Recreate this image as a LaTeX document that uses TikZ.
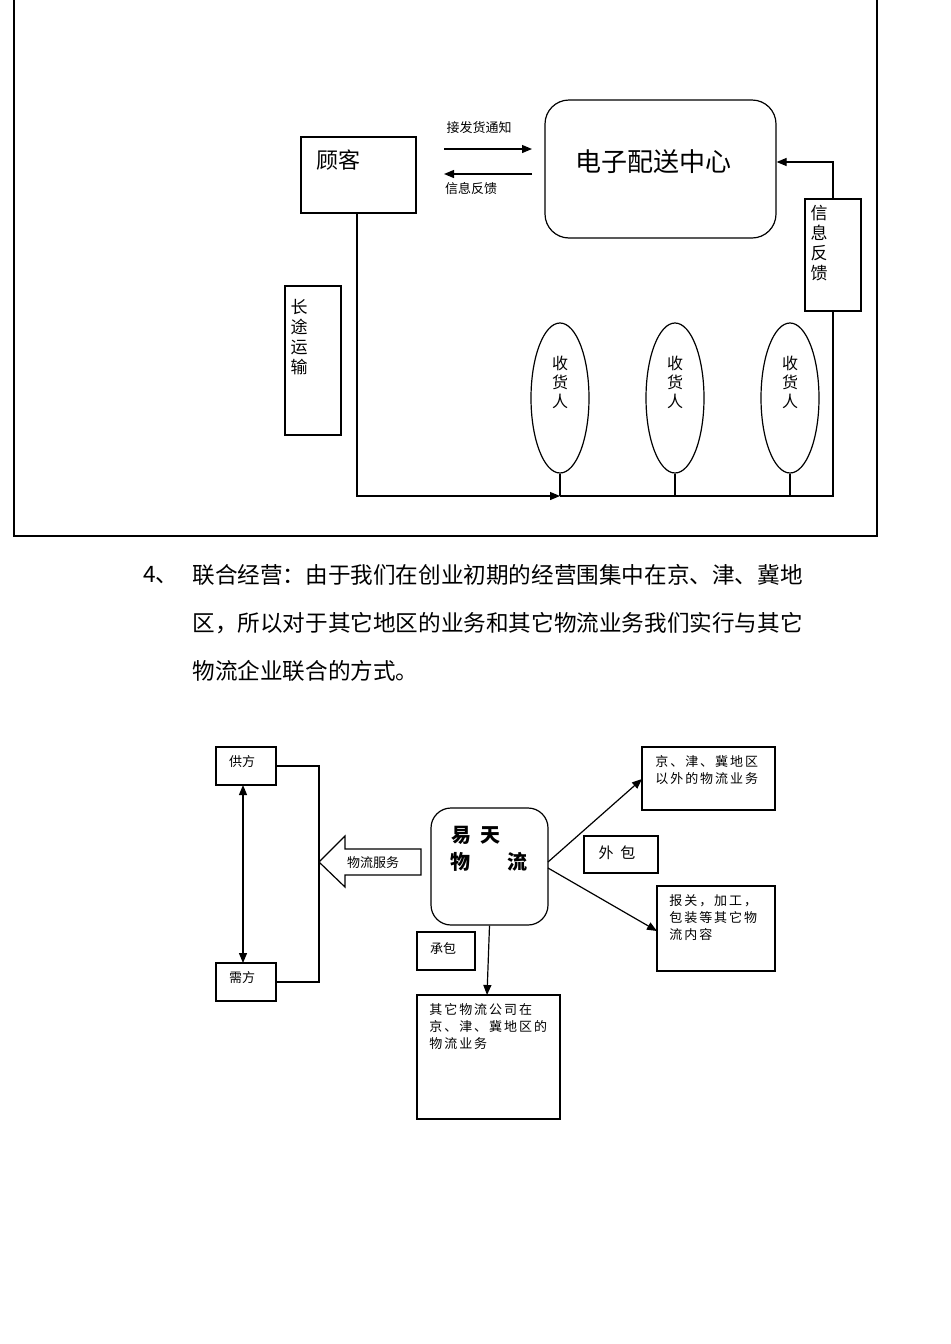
\documentclass[tikz,border=0pt]{standalone}
\usepackage{fontspec}
\setmainfont{Noto Sans CJK SC}
\usetikzlibrary{shapes.geometric,shapes.arrows,arrows.meta}
\begin{document}
\begin{tikzpicture}[x=0.5pt,y=-0.5pt,
  box/.style={draw,line width=0.6pt},
  lbl/.style={font=\fontsize{6.5pt}{8pt}\selectfont,inner sep=0pt},
  wlbl/.style={font=\fontsize{6.5pt}{8.5pt}\selectfont\addfontfeatures{LetterSpace=15},inner sep=0pt},
  arr/.style={-{Triangle[length=5pt,width=4pt]},line width=0.6pt},
  ln/.style={line width=0.6pt}]
\useasboundingbox (0,0) rectangle (950,1344);
\draw[ln] (14,0) -- (14,536) -- (877,536) -- (877,0);
% top diagram
\node[box,minimum width=57.5pt,minimum height=38pt] (cust) at (358.5,175) {};
\node[font=\fontsize{11pt}{13pt}\selectfont] at (338,160) {顾客};
\node[box,rounded corners=12pt,minimum width=115.5pt,minimum height=69pt] (ctr) at (660.5,169) {};
\node[font=\fontsize{13pt}{15pt}\selectfont] at (653,162) {电子配送中心};
\coordinate (a1) at (444,149); \coordinate (a2) at (532,149);
\draw[arr] (a1) -- (a2);
\node[lbl] at (479,128) {接发货通知};
\coordinate (b1) at (532,174); \coordinate (b2) at (444,174);
\draw[arr] (b1) -- (b2);
\node[lbl] at (471,189) {信息反馈};
\node[box,minimum width=28pt,minimum height=74.5pt] (long) at (313,360.5) {};
\node[font=\fontsize{8.5pt}{10pt}\selectfont,align=center] at (299,337) {长\\途\\运\\输};
\node[box,minimum width=28pt,minimum height=56pt] (fb) at (833,255) {};
\node[font=\fontsize{8.5pt}{10pt}\selectfont,align=center] at (819,243) {信\\息\\反\\馈};
\foreach \i/\x in {1/560,2/675,3/790}{
  \node[draw,ellipse,line width=0.6pt,minimum width=29pt,minimum height=75pt,inner sep=0pt] (e\i) at (\x,398) {};
  \node[font=\fontsize{8pt}{9.5pt}\selectfont,align=center] at (\x,382) {收\\货\\人};
  \coordinate (g\i) at (\x,496);
  \draw[ln] (e\i.south) -- (g\i);
}
\coordinate (c1) at (357,496);
\coordinate (c2) at (833,496);
\coordinate (c3) at (833,162);
\draw[arr] (cust.south -| c1) -- (c1) -- (g1);
\draw[ln] (g1) -- (c2) -- (fb.south);
\draw[arr] (fb.north) -- (c3) -- (c3 -| ctr.east);
% paragraph
\begin{scope}[every node/.style={font=\fontsize{11.3pt}{13pt}\selectfont,anchor=west,inner sep=0pt}]
\node at (143,575) {4、};
\node at (192,575) {联合经营：由于我们在创业初期的经营围集中在京、津、冀地};
\node at (192,623) {区，所以对于其它地区的业务和其它物流业务我们实行与其它};
\node at (192,671) {物流企业联合的方式。};
\end{scope}
% bottom diagram
\node[box,minimum width=30pt,minimum height=19pt] (sup) at (246,766) {};
\node[lbl] at (242,762) {供方};
\node[box,minimum width=30pt,minimum height=19pt] (dem) at (246,982) {};
\node[lbl] at (242,978) {需方};
\coordinate (k1) at (319,766); \coordinate (k2) at (319,982);
\draw[ln] (sup.east) -- (k1) -- (k2) -- (dem.east);
\draw[ln,{Triangle[length=5pt,width=4pt]}-{Triangle[length=5pt,width=4pt]}] (243,785) -- (243,963);
\draw[ln] (319,862) -- (345,836) -- (345,849) -- (421,849) -- (421,875) -- (345,875) -- (345,887) -- cycle;
\node[lbl] at (373,863) {物流服务};
\node[box,rounded corners=10pt,minimum width=58.5pt,minimum height=58.5pt] (yt) at (489.5,866.5) {};
\node[font=\fontsize{10pt}{12pt}\selectfont\bfseries] at (476,835) {易\ \ 天};
\node[font=\fontsize{10pt}{12pt}\selectfont\bfseries] at (460,862) {物};
\node[font=\fontsize{10pt}{12pt}\selectfont\bfseries] at (517,862) {流};
\node[box,minimum width=37pt,minimum height=18.5pt] (wb) at (621,854.5) {};
\node[font=\fontsize{7.5pt}{9pt}\selectfont] at (617,853) {外\ \ 包};
\node[box,minimum width=66.5pt,minimum height=31.5pt] (rt) at (708.5,778.5) {};
\node[wlbl,anchor=north west,align=left] at (655,755) {京、津、冀地区\\以外的物流业务};
\node[box,minimum width=59pt,minimum height=42.5pt] (rb) at (716,928.5) {};
\node[wlbl,anchor=north west,align=left] at (669,894) {报关，加工，\\包装等其它物\\流内容};
\node[box,minimum width=29pt,minimum height=19pt] (cb) at (446,951) {};
\node[lbl] at (443,948) {承包};
\node[box,minimum width=71.5pt,minimum height=62pt] (ob) at (488.5,1057) {};
\node[wlbl,anchor=north west,align=left] at (429,1003) {其它物流公司在\\京、津、冀地区的\\物流业务};
\coordinate (y1) at (548,862); \coordinate (y2) at (548,868);
\draw[arr] (y1) -- (642,779);
\draw[arr] (y2) -- (657,931);
\draw[arr] (yt.south) -- (487,995);
\end{tikzpicture}
\end{document}
